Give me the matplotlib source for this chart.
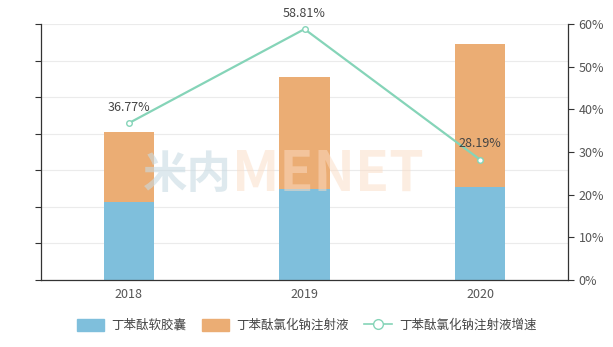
import matplotlib.pyplot as plt
import numpy as np

plt.rcParams['font.family'] = ['Noto Sans CJK SC', 'DejaVu Sans']

# data (left axis has no labels; values read in tick units)
years = ["2018", "2019", "2020"]
capsule = [2.13, 2.49, 2.54]          # 丁苯酞软胶囊
injection = [1.92, 3.06, 3.91]        # 丁苯酞氯化钠注射液
growth = [36.77, 58.81, 28.19]        # 丁苯酞氯化钠注射液增速 (%)

blue = "#7fbfdc"
orange = "#ebad74"
green = "#85d4b8"

fig = plt.figure(figsize=(6.13, 3.47), dpi=100)
ax = fig.add_axes([0.0669, 0.1931, 0.8597, 0.7377])
x = np.arange(len(years))

ax.bar(x, capsule, width=0.285, color=blue, zorder=2)
ax.bar(x, injection, width=0.285, bottom=capsule, color=orange, zorder=2)
ax.set_xlim(-0.5, 2.5)
ax.set_ylim(0, 7)
ax.set_yticks(np.arange(0, 8, 1))
ax.set_yticklabels([])
ax.grid(axis="y", color="#ebebeb", linewidth=0.8, zorder=0)
ax.set_xticks(x)
ax.set_xticklabels(years, fontsize=9, color="#555555")
ax.tick_params(axis="x", length=0, pad=6)
ax.tick_params(axis="y", length=4, color="#333333", width=0.8)
for s in ["top", "right"]:
    ax.spines[s].set_visible(False)
for s in ["left", "bottom"]:
    ax.spines[s].set_color("#333333")
    ax.spines[s].set_linewidth(0.9)

# watermark
ax.text(0.194, 0.41, "米内", transform=ax.transAxes, fontsize=32, fontweight="bold",
        color="#c9dbe3", alpha=0.6, ha="left", va="center", zorder=3)
ax.text(0.362, 0.41, "MENET", transform=ax.transAxes, fontsize=40, fontweight="bold",
        color="#fbdcc4", alpha=0.5, ha="left", va="center", zorder=3)

ax2 = ax.twinx()
ax2.plot(x, growth, color=green, linewidth=1.6, marker="o", markersize=4,
         markerfacecolor="white", markeredgecolor=green, markeredgewidth=1.0, zorder=3)
for xi, g in zip(x, growth):
    ax2.text(xi, g + 2.2, f"{g:.2f}%", ha="center", va="bottom", fontsize=9, color="#444444")
ax2.set_ylim(0, 60)
ax2.set_yticks(np.arange(0, 61, 10))
ax2.set_yticklabels([f"{v}%" for v in range(0, 61, 10)], fontsize=9, color="#555555")
ax2.tick_params(axis="y", length=4, color="#333333", width=0.8)
for s in ["top", "left", "bottom"]:
    ax2.spines[s].set_visible(False)
ax2.spines["right"].set_color("#333333")
ax2.spines["right"].set_linewidth(0.9)

from matplotlib.patches import Patch
from matplotlib.lines import Line2D
handles = [
    Patch(facecolor=blue, edgecolor=blue, label="丁苯酞软胶囊"),
    Patch(facecolor=orange, edgecolor=orange, label="丁苯酞氯化钠注射液"),
    Line2D([0], [0], color=green, linewidth=1.2, marker="o", markersize=7,
           markerfacecolor="white", markeredgecolor=green, label="丁苯酞氯化钠注射液增速"),
]
fig.legend(handles=handles, loc="center", bbox_to_anchor=(0.5, 0.063), ncol=3,
           frameon=False, fontsize=9, handlelength=2.2, handleheight=1.1,
           columnspacing=1.2, handletextpad=0.6, labelcolor="#444444")

fig.savefig("out.png", dpi=100)
